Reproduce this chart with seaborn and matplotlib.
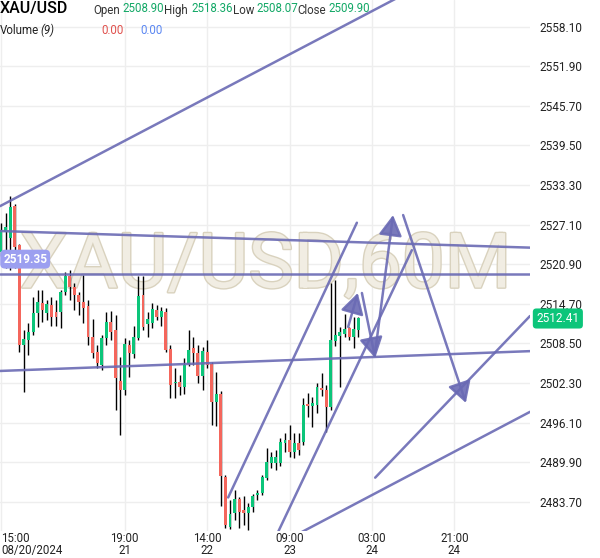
import numpy as np
import pandas as pd
import matplotlib
matplotlib.use('Agg')
import matplotlib.pyplot as plt
import matplotlib.patheffects as pe
import seaborn as sns

# hourly XAU/USD candles
opens = [2522.8, 2526.0, 2525.0, 2530.0, 2523.9, 2508.3, 2509.1, 2510.3, 2513.3, 2514.8,
         2513.3, 2514.5, 2513.4, 2513.4, 2516.6, 2519.1, 2517.3, 2516.1, 2515.0, 2514.4,
         2509.5, 2507.2, 2505.1, 2509.4, 2511.9, 2510.6, 2502.6, 2501.2, 2508.3, 2506.9,
         2509.4, 2516.1, 2511.6, 2511.7, 2513.7, 2512.7, 2513.4, 2507.6, 2502.3, 2502.5,
         2501.7, 2505.3, 2507.8, 2507.0, 2503.4, 2507.2, 2505.3, 2499.4, 2500.6, 2487.6,
         2479.8, 2482.0, 2484.2, 2482.4, 2482.0, 2482.9, 2484.8, 2485.1, 2487.5, 2489.8,
         2489.8, 2489.8, 2492.9, 2493.4, 2491.5, 2492.9, 2493.1, 2499.0, 2498.7, 2498.9,
         2501.5, 2501.2, 2498.6, 2508.90, 2509.7, 2510.0, 2510.9, 2509.5, 2510.6]
highs = [2527.4, 2528.9, 2531.6, 2530.3, 2524.1, 2510.6, 2511.7, 2515.8, 2516.9, 2516.9,
         2515.3, 2515.8, 2515.3, 2516.9, 2519.7, 2520.0, 2518.0, 2516.6, 2519.2, 2515.3,
         2512.3, 2508.3, 2509.8, 2513.4, 2513.6, 2513.0, 2506.4, 2509.4, 2509.1, 2511.2,
         2519.1, 2519.1, 2513.4, 2514.8, 2514.5, 2514.2, 2514.1, 2508.3, 2504.7, 2503.6,
         2506.2, 2510.6, 2509.5, 2508.3, 2508.0, 2509.1, 2505.6, 2504.0, 2501.1, 2487.9,
         2484.0, 2485.6, 2484.5, 2484.6, 2483.5, 2485.0, 2485.6, 2487.9, 2492.2, 2491.5,
         2491.8, 2493.7, 2494.5, 2495.8, 2494.5, 2494.5, 2500.0, 2500.8, 2500.1, 2502.3,
         2503.9, 2502.0, 2518.0, 2518.36, 2511.1, 2513.1, 2511.1, 2512.7, 2512.7]
lows = [2522.2, 2520.3, 2520.0, 2520.3, 2507.2, 2500.9, 2506.7, 2509.8, 2511.1, 2511.9,
        2512.2, 2511.2, 2511.2, 2510.9, 2516.1, 2515.3, 2513.7, 2513.0, 2511.7, 2508.3,
        2506.2, 2504.7, 2504.4, 2508.3, 2509.1, 2498.1, 2494.2, 2500.4, 2503.3, 2506.2,
        2509.1, 2510.6, 2509.5, 2510.9, 2512.2, 2511.2, 2507.2, 2500.0, 2500.0, 2500.4,
        2500.6, 2505.0, 2505.1, 2502.3, 2501.2, 2504.7, 2495.8, 2495.6, 2483.1, 2479.6,
        2479.5, 2480.9, 2479.6, 2480.1, 2479.3, 2482.1, 2484.0, 2484.8, 2487.1, 2489.0,
        2488.7, 2489.3, 2491.5, 2490.7, 2490.6, 2491.1, 2492.6, 2497.0, 2495.4, 2497.6,
        2500.3, 2494.7, 2498.1, 2508.07, 2501.7, 2509.5, 2509.1, 2507.8, 2509.5]
closes = [2526.3, 2526.7, 2529.9, 2523.6, 2508.3, 2509.2, 2510.3, 2513.3, 2515.0, 2513.7,
          2514.7, 2512.7, 2512.7, 2516.6, 2519.1, 2517.3, 2516.1, 2515.0, 2514.1, 2509.5,
          2507.0, 2505.5, 2509.4, 2511.9, 2510.3, 2503.1, 2501.2, 2508.4, 2507.0, 2509.5,
          2515.9, 2511.1, 2512.3, 2513.9, 2512.7, 2513.6, 2507.5, 2502.0, 2502.5, 2501.7,
          2505.1, 2507.5, 2507.0, 2503.4, 2507.3, 2505.1, 2499.4, 2500.6, 2487.8, 2480.1,
          2481.8, 2484.2, 2482.1, 2482.0, 2482.9, 2484.6, 2485.1, 2487.6, 2490.0, 2490.7,
          2490.7, 2493.1, 2493.4, 2491.5, 2492.9, 2491.8, 2498.9, 2498.7, 2499.2, 2501.7,
          2501.2, 2498.6, 2509.1, 2509.90, 2510.3, 2510.8, 2509.5, 2510.8, 2512.41]

time_ticks = [0, 27, 45, 63, 81, 99]
time_labels = ['15:00\n08/20/2024', '19:00\n21', '14:00\n22', '09:00\n23', '03:00\n24', '21:00\n24']
price_ticks = [2483.70, 2489.90, 2496.10, 2502.30, 2508.50, 2514.70, 2520.90,
               2527.10, 2533.30, 2539.50, 2545.70, 2551.90, 2558.10]

# drawn trend lines: [bar index, price] at both ends
upper_channel = [[-0.2, 2530.0], [90.0, 2563.9]]
top_band = [[-0.2, 2526.1], [115.5, 2523.5]]
level_line = [[-0.2, 2519.35], [115.5, 2519.35]]
bottom_band = [[-0.2, 2504.2], [115.5, 2507.3]]
lower_channel = [[65.7, 2479.0], [115.5, 2497.8]]
short_rise = [[81.7, 2487.5], [115.5, 2512.8]]
steep_upper = [[49.6, 2484.4], [77.7, 2527.4]]
steep_lower = [[60.5, 2479.0], [89.7, 2523.1]]
# arrows: [start, tip]
arrows = [[[75.8, 2511.1], [77.9, 2516.4]],
          [[78.8, 2516.4], [81.7, 2506.2]],
          [[81.7, 2507.2], [85.6, 2528.6]],
          [[87.8, 2528.6], [101.5, 2499.2]]]
level_value = 2519.35

sns.set_style('white')
plt.rcParams['font.family'] = ['Roboto', 'DejaVu Sans']

GREEN = '#0cc57a'
RED = '#f4665c'
LINE = '#6a6ab4'

df = pd.DataFrame({'open': opens, 'high': highs, 'low': lows, 'close': closes})
df['idx'] = np.arange(len(df))
up = df['close'] >= df['open']

fig = plt.figure(figsize=(6, 5.58), dpi=100)
ax = fig.add_axes([0, 27 / 558, 530 / 600, 531 / 558])

ax.set_xlim(-0.22, 115.5)
ax.set_ylim(2479.15, 2562.26)

# grid
ax.set_xticks(time_ticks)
ax.set_xticklabels(time_labels)
ax.set_yticks(price_ticks)
ax.set_yticklabels([f'{p:.2f}' for p in price_ticks])
ax.grid(True, color='#eeeeee', lw=1)
ax.set_axisbelow(True)
for s in ax.spines.values():
    s.set_visible(False)
ax.yaxis.tick_right()
ax.tick_params(axis='y', length=0, pad=7, labelsize=8.5, labelcolor='#222222')
ax.tick_params(axis='x', length=0, pad=1, labelsize=8.3, labelcolor='#222222')
for t in ax.get_xticklabels():
    t.set_linespacing(0.88)
ax.get_xticklabels()[0].set_ha('left')

# watermark
ax.text(0.501, 0.4586, 'XAU/USD,60M', transform=ax.transAxes, ha='center', va='baseline',
        fontsize=55, color='#f1ede3', zorder=1,
        path_effects=[pe.withStroke(linewidth=2, foreground='#d9d2be')])

# candles
ax.vlines(df['idx'], df['low'], df['high'], color='black', lw=1.0, zorder=3)
body = (df['close'] - df['open']).abs().clip(lower=0.2)
ax.bar(df['idx'], body, bottom=df[['open', 'close']].min(axis=1), width=0.64,
       color=np.where(up, GREEN, RED), linewidth=0, zorder=4)

# trend lines
for ln in [upper_channel, top_band, level_line, bottom_band, lower_channel,
           short_rise, steep_upper, steep_lower]:
    sns.lineplot(x=[ln[0][0], ln[1][0]], y=[ln[0][1], ln[1][1]], ax=ax, color=LINE,
                 lw=1.8, alpha=0.9, zorder=5, sort=False)
for start, tip in arrows:
    ax.annotate('', xy=tip, xytext=start,
                arrowprops=dict(arrowstyle='-|>,head_length=0.7,head_width=0.4',
                                mutation_scale=18, color=LINE, lw=1.8, alpha=0.9,
                                shrinkA=0, shrinkB=0), zorder=6)

# price labels
ax.text(0.006, level_value + 2.35, f'{level_value:.2f}', transform=ax.get_yaxis_transform(),
        ha='left', va='center', fontsize=8.5, color='white', fontweight='bold', zorder=7,
        bbox=dict(boxstyle='round,pad=0.25,rounding_size=0.4', fc='#9c9ff0', ec='none'))
ax.text(1.012, closes[-1], f'{closes[-1]:.2f}', transform=ax.get_yaxis_transform(),
        ha='left', va='center', fontsize=8.5, color='white', zorder=7, clip_on=False,
        bbox=dict(boxstyle='round,pad=0.3,rounding_size=0.3', fc=GREEN, ec='none'))

# header
def px(x, y):
    return x / 600, 1 - y / 558

fig.text(*px(0, 13), 'XAU/USD', fontsize=11.5, fontweight='medium', color='black', va='baseline')
head = [('Open', 93, '2508.90', 122), ('High', 164, '2518.36', 191),
        ('Low', 233, '2508.07', 256), ('Close', 297, '2509.90', 328)]
for name, xn, val, xv in head:
    fig.text(*px(xn, 14), name, fontsize=8.3, color='#333333', va='baseline')
    fig.text(*px(xv, 12), val, fontsize=8.3, color='#12a866', va='baseline')
fig.text(*px(0, 34), 'Volume', fontsize=8.3, color='#222222', va='baseline')
fig.text(*px(40, 34), '(9)', fontsize=8.3, color='#222222', va='baseline', style='italic')
fig.text(*px(101, 34), '0.00', fontsize=8.3, color='#e0514d', va='baseline')
fig.text(*px(140, 34), '0.00', fontsize=8.3, color='#5b87f2', va='baseline')

fig.savefig('out.png', dpi=100)
